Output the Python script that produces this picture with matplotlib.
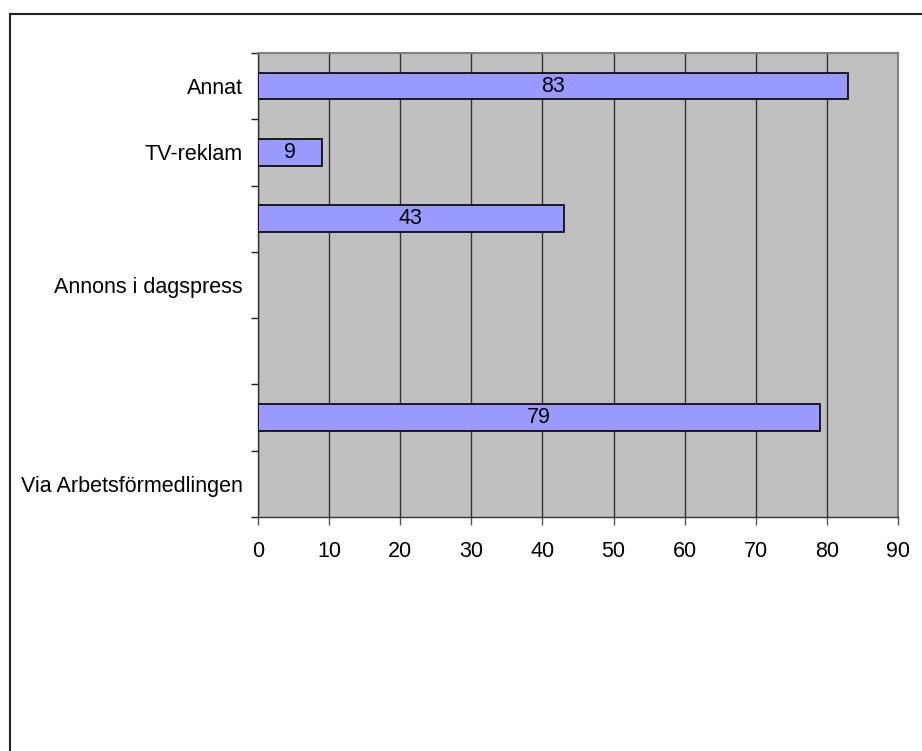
import matplotlib
matplotlib.use('Agg')
import matplotlib.pyplot as plt
from matplotlib.lines import Line2D
import numpy as np

plt.rcParams['font.family'] = ['Liberation Sans', 'DejaVu Sans']

# categories from top to bottom (Excel hides some labels)
categories = ['Annat', 'TV-reklam', '', 'Annons i dagspress', '', '', 'Via Arbetsförmedlingen']
values = [83, 9, 43, None, None, 79, None]
x_ticks = [0, 10, 20, 30, 40, 50, 60, 70, 80, 90]

fs = 15.5

fig = plt.figure(figsize=(9.22, 7.51), dpi=100)
ax = fig.add_axes([258 / 922, 1 - 517 / 751, 640 / 922, 464 / 751])
ax.set_facecolor('#C0C0C0')

pos = np.arange(len(categories))
for p, v in zip(pos, values):
    if v is None:
        continue
    ax.barh(p, v, height=0.4, color='#9999FF', edgecolor='black', linewidth=1.2, zorder=3)
    ax.text(v / 2, p, str(v), ha='center', va='center', fontsize=fs, zorder=4)

ax.set_xlim(0, 90)
ax.set_ylim(len(categories) - 0.5, -0.5)
ax.set_xticks(x_ticks)
ax.set_xticklabels([str(t) for t in x_ticks], fontsize=fs)
ax.xaxis.grid(True, color='#333333', linewidth=1, zorder=1)
ax.set_axisbelow(True)

# y: ticks at slot edges, labels at slot centres
ax.set_yticks(np.arange(len(categories) + 1) - 0.5)
ax.set_yticklabels([])
ax.set_yticks(pos, minor=True)
ax.set_yticklabels(categories, minor=True, fontsize=fs)
ax.tick_params(axis='y', which='minor', length=0, pad=11)
ax.tick_params(axis='y', which='major', length=5, width=1, color='#222222')
ax.tick_params(axis='x', length=6, width=1, color='#555555', pad=11)

for s in ['top', 'right']:
    ax.spines[s].set_color('#808080')
    ax.spines[s].set_linewidth(1.5)
for s in ['left', 'bottom']:
    ax.spines[s].set_color('#333333')
    ax.spines[s].set_linewidth(1)

# outer chart frame (left and top visible)
fig.add_artist(Line2D([10 / 922, 10 / 922], [0, 1 - 14 / 751], color='#222222', linewidth=1.5))
fig.add_artist(Line2D([10 / 922, 1], [1 - 14 / 751, 1 - 14 / 751], color='#222222', linewidth=1.5))

fig.savefig('out.png', dpi=100)
